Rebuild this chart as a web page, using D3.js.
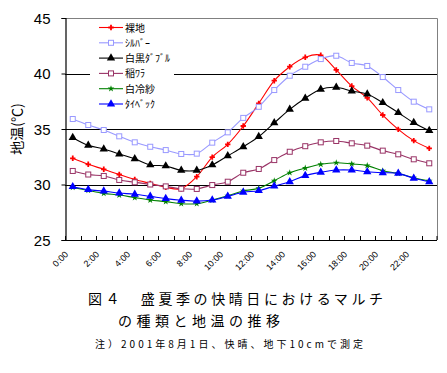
<!DOCTYPE html>
<html>
<head>
<meta charset="utf-8">
<script src="https://cdn.jsdelivr.net/npm/d3@7"></script>
<style>
  body { margin: 0; background: #fff; }
  svg { display: block; }
  text { font-family: "Noto Sans CJK JP", sans-serif; fill: #000; }
  .num { font-family: "Liberation Sans", Arial, sans-serif; }
</style>
</head>
<body>
<svg id="chart" width="447" height="373"></svg>
<script>
// hourly soil temperature (10cm) by mulch type
const hours = d3.range(24).map(h => h + ':00');
const hourTicks = hours.filter((h, i) => i % 2 === 0);
const yTicks = [25, 30, 35, 40, 45];

const bareSoil = [32.36, 31.82, 31.37, 30.9, 30.45, 30.1, 29.75, 29.62, 30.7, 32.47, 33.62, 35.27,
                  37.31, 39.35, 40.61, 41.46, 41.64, 40.32, 38.87, 37.8, 36.26, 34.97, 33.95, 33.26];
const silver = [35.9, 35.36, 34.91, 34.34, 33.8, 33.4, 33.1, 32.75, 32.78, 33.77, 34.7, 36.0,
                37.0, 38.51, 39.8, 40.61, 41.3, 41.6, 40.95, 40.68, 39.68, 38.51, 37.46, 36.77];
const whiteBlack = [34.22, 33.53, 33.2, 32.75, 32.32, 31.76, 31.67, 31.27, 31.27, 31.76, 32.58, 33.4,
                    34.31, 35.55, 36.77, 37.77, 38.58, 38.76, 38.42, 38.15, 37.37, 36.47, 35.57, 34.85];
const riceStraw = [31.22, 30.9, 30.77, 30.41, 30.2, 30.0, 29.83, 29.62, 29.6, 29.95, 30.25, 31.06,
                   31.4, 32.2, 32.95, 33.45, 33.8, 33.92, 33.71, 33.5, 33.05, 32.72, 32.27, 31.91];
const whiteShade = [29.74, 29.46, 29.2, 29.05, 28.82, 28.6, 28.46, 28.27, 28.27, 28.6, 28.98, 29.42,
                    29.66, 30.34, 31.06, 31.48, 31.82, 31.96, 31.85, 31.7, 31.24, 31.0, 30.61, 30.32];
const tyvek = [29.8, 29.54, 29.4, 29.23, 29.12, 28.93, 28.73, 28.58, 28.5, 28.6, 28.93, 29.3,
               29.44, 29.86, 30.25, 30.8, 31.1, 31.3, 31.3, 31.15, 31.06, 31.0, 30.56, 30.25];

const seriesNames = ['裸地', 'ｼﾙﾊﾞｰ', '白黒ﾀﾞﾌﾞﾙ', '稲ﾜﾗ', '白冷紗', 'ﾀｲﾍﾞｯｸ'];
const seriesValues = [bareSoil, silver, whiteBlack, riceStraw, whiteShade, tyvek];
const seriesColors = ['#ff0000', '#9999ff', '#000000', '#993366', '#008000', '#0000ff'];
const seriesMarks = ['cross', 'square', 'triangle', 'square', 'star', 'triangle'];

const svg = d3.select('#chart');
const plotL = 65, plotR = 437, plotT = 18, plotB = 240;

const x = d3.scaleBand().domain(hours).range([plotL, plotR]);
const y = d3.scaleLinear().domain([25, 45]).range([plotB, plotT]);
const cx = h => x(h) + x.bandwidth() / 2;

// plot frame (grey top/right)
svg.append('path')
  .attr('d', `M${plotL},${plotT + 0.5}H${plotR + 0.5}V${plotB}`)
  .attr('fill', 'none').attr('stroke', '#808080').attr('stroke-width', 1);

// gridlines
svg.append('g').selectAll('line').data([30, 35, 40]).join('line')
  .attr('x1', plotL).attr('x2', plotR)
  .attr('y1', d => Math.round(y(d)) + 0.5).attr('y2', d => Math.round(y(d)) + 0.5)
  .attr('stroke', '#000').attr('stroke-width', 1.2);

// y axis
const yAxis = svg.append('g').attr('transform', `translate(${plotL + 0.5},0)`)
  .call(d3.axisLeft(y).tickValues(yTicks).tickSize(4).tickPadding(11));
yAxis.select('.domain').attr('stroke', '#000').attr('stroke-width', 1.2);
yAxis.selectAll('text').attr('class', 'num').style('font-size', '15px')
  .attr('dy', '0.36em');

// x axis: inward ticks on category boundaries
const xAxis = svg.append('g');
xAxis.append('line').attr('x1', plotL).attr('x2', plotR)
  .attr('y1', plotB + 0.5).attr('y2', plotB + 0.5)
  .attr('stroke', '#000').attr('stroke-width', 1.2);
xAxis.selectAll('line.tick').data(hours.concat(['end'])).join('line')
  .attr('class', 'tick')
  .attr('x1', d => d === 'end' ? plotR : Math.round(x(d)) + 0.5)
  .attr('x2', d => d === 'end' ? plotR : Math.round(x(d)) + 0.5)
  .attr('y1', plotB).attr('y2', plotB - 4)
  .attr('stroke', '#000');
xAxis.selectAll('text').data(hourTicks).join('text')
  .attr('class', 'num')
  .attr('transform', d => `translate(${cx(d) - 4},${plotB + 15}) rotate(-45)`)
  .attr('text-anchor', 'end')
  .style('font-size', '9px')
  .text(d => d);

// y axis title
svg.append('text')
  .attr('transform', 'translate(22,129) rotate(-90)')
  .attr('text-anchor', 'middle')
  .style('font-size', '14px')
  .text('地温(℃)');

// markers
function drawMark(g, type, color, px, py) {
  if (type === 'square') {
    g.append('rect').attr('x', px - 2.5).attr('y', py - 2.5).attr('width', 5).attr('height', 5)
      .attr('fill', '#fff').attr('stroke', color).attr('stroke-width', 1);
  } else if (type === 'triangle') {
    g.append('path').attr('d', d3.symbol(d3.symbolTriangle, 30)())
      .attr('transform', `translate(${px},${py})`).attr('fill', color);
  } else if (type === 'cross') {
    g.append('path').attr('d', d3.symbol(d3.symbolCross, 16)())
      .attr('transform', `translate(${px},${py})`).attr('fill', color);
  } else {
    g.append('path').attr('d', d3.symbol(d3.symbolStar, 14)())
      .attr('transform', `translate(${px},${py})`).attr('fill', color);
  }
}

const line = d3.line()
  .x((d, i) => cx(hours[i]))
  .y(d => y(d))
  .curve(d3.curveCatmullRom.alpha(0));

seriesValues.forEach((vals, k) => {
  const g = svg.append('g');
  g.append('path').datum(vals)
    .attr('d', line)
    .attr('fill', 'none')
    .attr('stroke', seriesColors[k])
    .attr('stroke-width', 1.1);
  vals.forEach((v, i) => drawMark(g, seriesMarks[k], seriesColors[k], cx(hours[i]), y(v)));
});

// legend
const legend = svg.append('g');
legend.append('rect').attr('x', 90).attr('y', 20).attr('width', 84).attr('height', 92)
  .attr('fill', '#fff');
seriesNames.forEach((name, k) => {
  const ly = 27.5 + k * 15.3;
  legend.append('line').attr('x1', 99).attr('x2', 123).attr('y1', ly).attr('y2', ly)
    .attr('stroke', seriesColors[k]).attr('stroke-width', 1.1);
  drawMark(legend, seriesMarks[k], seriesColors[k], 111, ly);
  legend.append('text').attr('x', 125).attr('y', ly + 4)
    .style('font-size', '10px').text(name);
});

// caption
svg.append('text').attr('x', 88).attr('y', 304)
  .attr('textLength', 295).attr('lengthAdjust', 'spacing')
  .style('font-size', '14px').text('図４　盛夏季の快晴日におけるマルチ');
svg.append('text').attr('x', 118).attr('y', 326)
  .attr('textLength', 162).attr('lengthAdjust', 'spacing')
  .style('font-size', '14px').text('の種類と地温の推移');
svg.append('text').attr('x', 95).attr('y', 348)
  .attr('textLength', 268).attr('lengthAdjust', 'spacing')
  .style('font-size', '10px').text('注）2001年8月1日、快晴、地下10cmで測定');
</script>
</body>
</html>
